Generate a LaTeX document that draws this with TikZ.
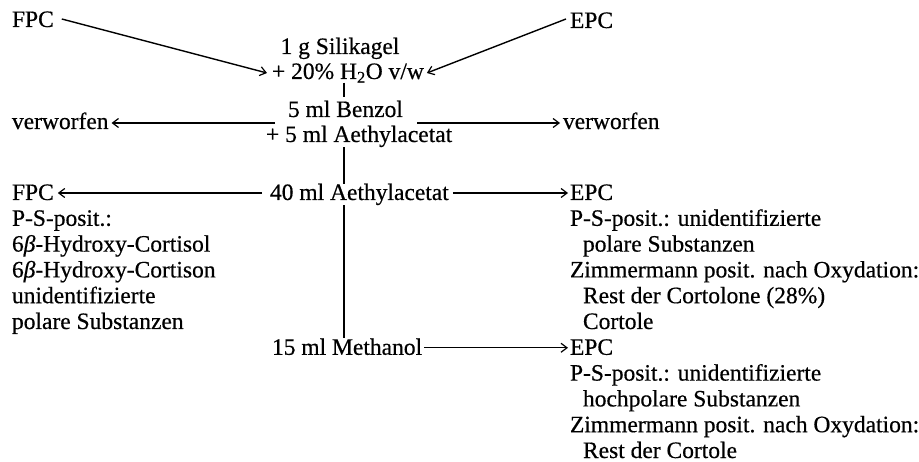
\documentclass[tikz,border=0pt]{standalone}
\usepackage{fontspec}
\setmainfont{Liberation Serif}
\newfontfamily\inkfont{Liberation Serif}[FakeBold=0.5]
\usetikzlibrary{arrows.meta,calc}
\begin{document}
\begin{tikzpicture}[x=1pt,y=-1pt,
  txt/.style={anchor=base west,inner sep=0pt,outer sep=0pt,font=\inkfont\fontsize{23.5pt}{25.8pt}\selectfont},
  ctxt/.style={txt,anchor=base},
  conn/.style={line width=1.4pt},
  arr/.style={conn,-{Straight Barb[length=6pt,width=9pt,line width=1.2pt]}}]
\useasboundingbox (0,0) rectangle (919,462);
\coordinate (spine) at (344,0);
% top block
\node[txt] (fpcA) at (12,27) {FPC};
\node[txt] (epcA) at (570,28) {EPC};
\node[ctxt] (sil) at (340,54) {1 g Silikagel};
\node[txt] (h2o) at (272,79) {+ 20\% H\textsubscript{2}O v/w};
\node[txt] (benz) at (288,117) {5 ml Benzol};
\node[txt] (verwL) at (12,129) {verworfen};
\node[txt] (verwR) at (563,129) {verworfen};
\node[txt] (eth5) at (266,142) {+ 5 ml Aethylacetat};
% 40 ml row
\node[txt] (fpcB) at (12,200) {FPC};
\node[txt] (eth40) at (270,200) {40 ml Aethylacetat};
\node[txt] (epcB) at (570,200) {EPC};
% left list
\node[txt] (l1) at (12,225.8) {P-S-posit.:};
\node[txt] (l2) at (12,251.6) {6\textit{β}-Hydroxy-Cortisol};
\node[txt] (l3) at (12,277.4) {6\textit{β}-Hydroxy-Cortison};
\node[txt] (l4) at (12,303.2) {unidentifizierte};
\node[txt] (l5) at (12,329) {polare Substanzen};
% right list 1
\node[txt] (r1) at (570,225.8) {P-S-posit.: unidentifizierte};
\node[txt] (r2) at (583,251.6) {polare Substanzen};
\node[txt] (r3) at (570,277.4) {Zimmermann posit. nach Oxydation:};
\node[txt] (r4) at (583,303.2) {Rest der Cortolone (28\%)};
\node[txt] (r5) at (583,329) {Cortole};
% methanol row
\node[txt] (meth) at (272,354.8) {15 ml Methanol};
\node[txt] (epcC) at (570,354.8) {EPC};
\node[txt] (s1) at (570,380.6) {P-S-posit.: unidentifizierte};
\node[txt] (s2) at (583,406.4) {hochpolare Substanzen};
\node[txt] (s3) at (570,432.2) {Zimmermann posit. nach Oxydation:};
\node[txt] (s4) at (583,458) {Rest der Cortole};
% connectors
\draw[arr] ($(fpcA.base east)+(8,-8)$) -- ($(h2o.base west)+(-5,-6)$);
\draw[arr] ($(epcA.base west)+(-4,-9)$) -- ($(h2o.base east)+(3,-6)$);
\draw[conn] (h2o.south -| spine) -- ([yshift=4pt]benz.north -| spine);
\draw[arr] ($(eth5.base west)+(9,-19)$) -- ($(verwL.base east)+(3,-6)$);
\draw[arr] ($(eth5.base east)+(-35,-19)$) -- ($(verwR.base west)+(-3,-6)$);
\draw[conn] (eth5.south -| spine) -- (eth40.north -| spine);
\draw[arr] ($(eth40.base west)+(-8,-7)$) -- ($(fpcB.base east)+(4,-7)$);
\draw[arr] ($(eth40.base east)+(4,-7)$) -- ($(epcB.base west)+(-2,-7)$);
\draw[conn] (eth40.south -| spine) -- (meth.north -| spine);
\draw[arr] ($(meth.base east)+(2,-7)$) -- ($(epcC.base west)+(-2,-7)$);
\end{tikzpicture}
\end{document}
